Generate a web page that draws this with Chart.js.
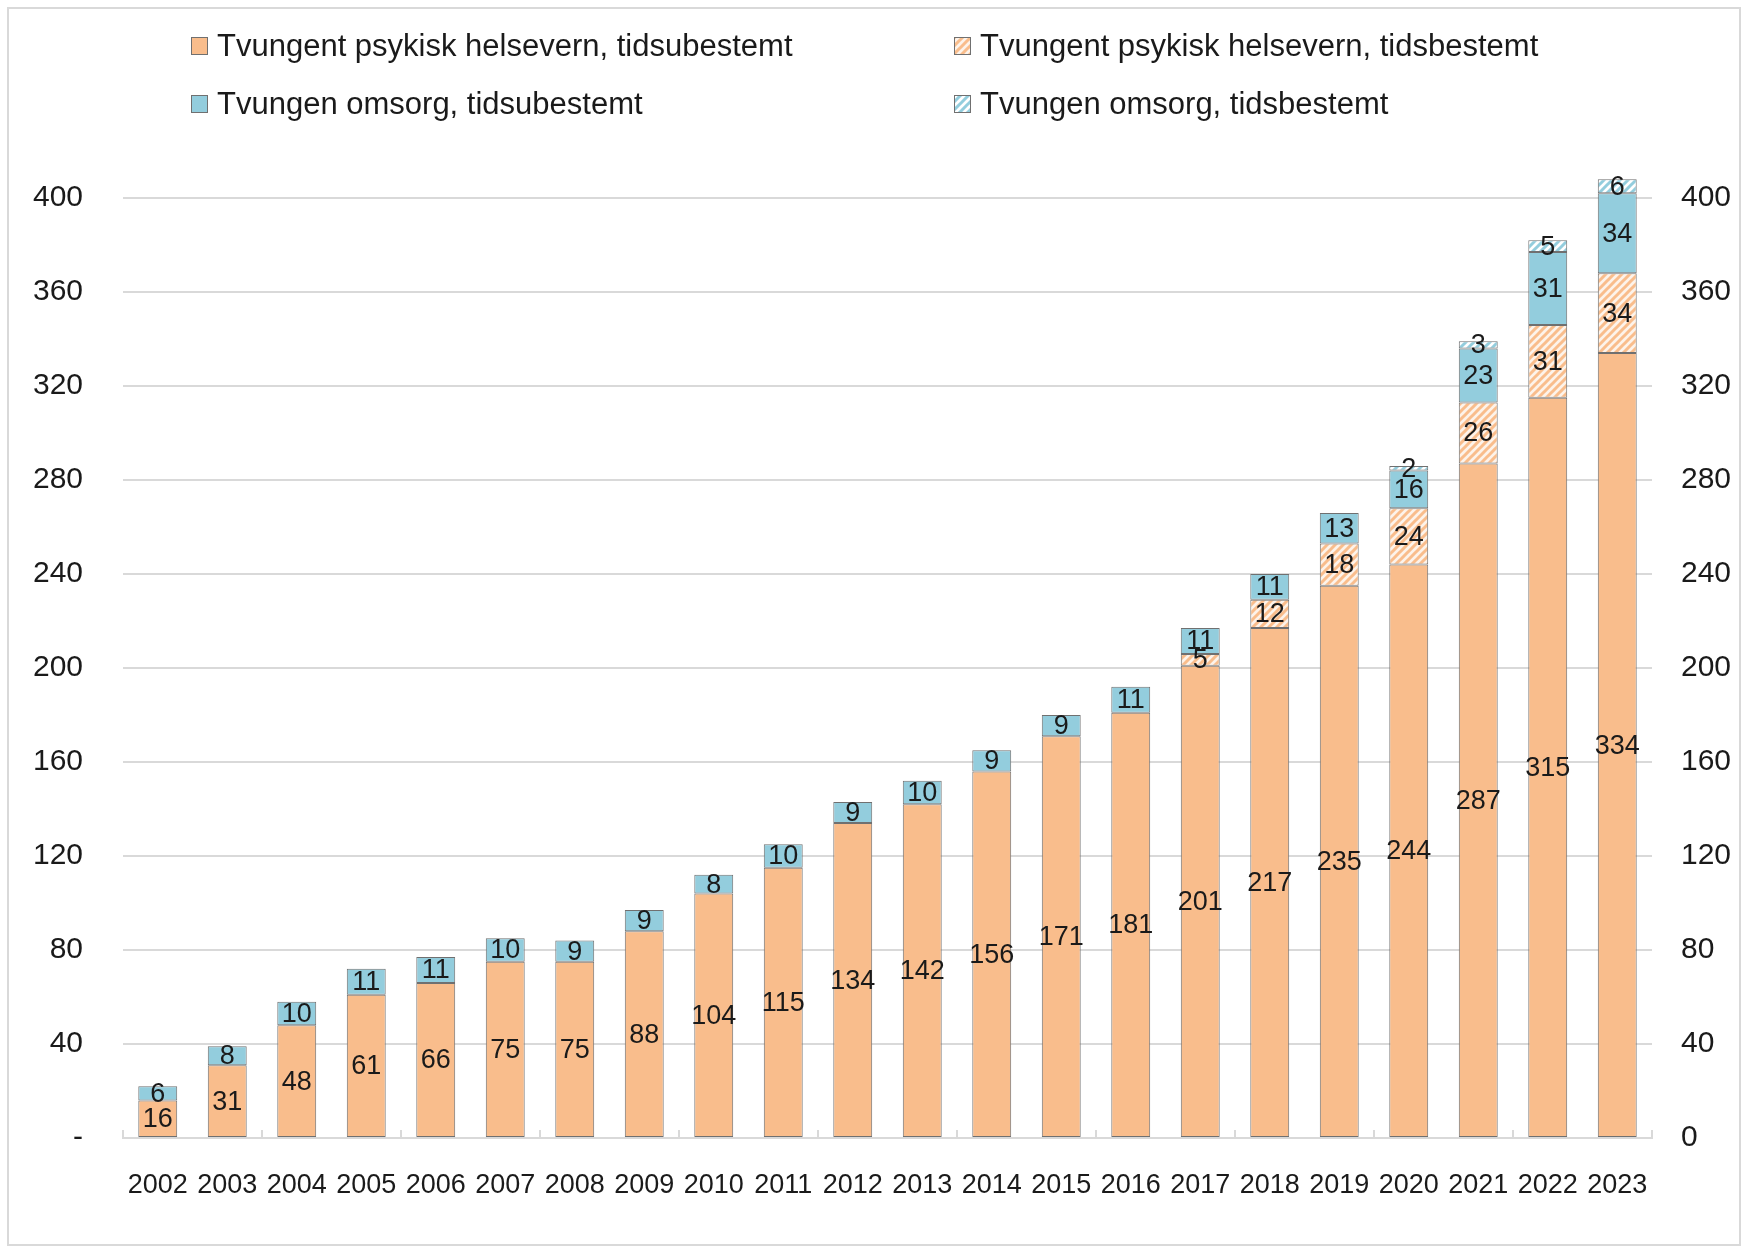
<!DOCTYPE html>
<html>
<head>
<meta charset="utf-8">
<script src="https://cdn.jsdelivr.net/npm/chart.js@4/dist/chart.umd.min.js"></script>
<style>
  html, body { margin: 0; padding: 0; background: #fff; }
  #wrap { width: 1743px; height: 1247px; }
</style>
</head>
<body>
<div id="wrap"><canvas id="chart" width="1743" height="1247"></canvas></div>
<script>
var years = ['2002','2003','2004','2005','2006','2007','2008','2009','2010','2011','2012','2013','2014','2015','2016','2017','2018','2019','2020','2021','2022','2023'];
var psykUbestemt = [16,31,48,61,66,75,75,88,104,115,134,142,156,171,181,201,217,235,244,287,315,334];
var psykBestemt  = [0,0,0,0,0,0,0,0,0,0,0,0,0,0,0,5,12,18,24,26,31,34];
var omsorgUbestemt = [6,8,10,11,11,10,9,9,8,10,9,10,9,9,11,11,11,13,16,23,31,34];
var omsorgBestemt  = [0,0,0,0,0,0,0,0,0,0,0,0,0,0,0,0,0,0,2,3,5,6];
var seriesNames = ['Tvungent psykisk helsevern, tidsubestemt','Tvungent psykisk helsevern, tidsbestemt','Tvungen omsorg, tidsubestemt','Tvungen omsorg, tidsbestemt'];
var yTicks = [0,40,80,120,160,200,240,280,320,360,400];

var FONT = '"Liberation Sans", sans-serif';
var ORANGE = '#f9bd8c';
var BLUE = '#93cddd';
var EDGE = '#707070';
var INK = '#1a1a1a';

function hatch(bg, fg){
  var c = document.createElement('canvas');
  c.width = 8; c.height = 8;
  var g = c.getContext('2d');
  g.fillStyle = bg;
  g.fillRect(0,0,8,8);
  g.strokeStyle = fg;
  g.lineWidth = 3;
  g.beginPath();
  g.moveTo(-2,10); g.lineTo(10,-2);
  g.moveTo(-2,2); g.lineTo(2,-2);
  g.moveTo(6,10); g.lineTo(10,6);
  g.stroke();
  return g.createPattern(c,'repeat');
}
var ctx0 = document.getElementById('chart').getContext('2d');
var orangeHatch = hatch('#fdf3ea', ORANGE);
var blueHatch = hatch('#ffffff', BLUE);
var fills = [ORANGE, orangeHatch, BLUE, blueHatch];

// frame round the whole chart + the little tick marks on the x axis
var framePlugin = {
  id: 'frame',
  beforeDraw: function(chart){
    var c = chart.ctx;
    c.save();
    c.fillStyle = '#fff';
    c.fillRect(0,0,chart.width,chart.height);
    c.strokeStyle = '#d9d9d9';
    c.lineWidth = 2;
    c.strokeRect(8,8,1732,1237);
    c.restore();
  },
  afterDatasetsDraw: function(chart){
    var c = chart.ctx, xs = chart.scales.x, a = chart.chartArea;
    var step = (a.right - a.left) / years.length;
    c.save();
    c.strokeStyle = '#d9d9d9';
    c.lineWidth = 2;
    c.beginPath();
    for (var i = 0; i <= years.length; i += 2){
      var px = Math.round(a.left + i*step);
      c.moveTo(px, a.bottom); c.lineTo(px, a.bottom - 8);
    }
    c.stroke();
    c.restore();
  }
};

// values written in the middle of each segment
var labelPlugin = {
  id: 'segLabels',
  afterDatasetsDraw: function(chart){
    var c = chart.ctx;
    c.save();
    c.font = '27px ' + FONT;
    c.fillStyle = INK;
    c.textAlign = 'center';
    c.textBaseline = 'middle';
    chart.data.datasets.forEach(function(ds, i){
      var meta = chart.getDatasetMeta(i);
      meta.data.forEach(function(bar, j){
        var v = ds.data[j];
        if (!v) return;
        c.fillText(String(v), bar.x, (bar.y + bar.base)/2 + 1);
      });
    });
    c.restore();
  }
};

// legend in two columns like the original
var legendPlugin = {
  id: 'gridLegend',
  afterDraw: function(chart){
    var c = chart.ctx;
    var cols = [191, 954];
    var rows = [46, 104];
    c.save();
    c.font = '31px ' + FONT;
    c.textBaseline = 'middle';
    c.textAlign = 'left';
    for (var i = 0; i < 4; i++){
      var x = cols[i % 2], y = rows[Math.floor(i/2)];
      c.fillStyle = fills[i];
      c.fillRect(x, y-9, 17, 18);
      c.strokeStyle = EDGE;
      c.lineWidth = 1;
      c.strokeRect(x+0.5, y-8.5, 16, 17);
      c.fillStyle = INK;
      c.fillText(seriesNames[i], x + 26, y + 1);
    }
    c.restore();
  }
};

function keepTicks(scale){
  scale.ticks = yTicks.map(function(v){ return {value: v}; });
}

var datasets = [psykUbestemt, psykBestemt, omsorgUbestemt, omsorgBestemt].map(function(d, i){
  return {
    label: seriesNames[i],
    data: d,
    backgroundColor: fills[i],
    borderColor: EDGE,
    borderWidth: 1,
    borderSkipped: false,
    barPercentage: 0.56,
    categoryPercentage: 1
  };
});

new Chart(ctx0, {
  type: 'bar',
  data: { labels: years, datasets: datasets },
  options: {
    responsive: false,
    animation: false,
    layout: { padding: { top: 104, left: 0, right: 0, bottom: 0 } },
    plugins: { legend: { display: false }, tooltip: { enabled: false } },
    scales: {
      x: {
        stacked: true,
        grid: { display: false, drawTicks: false },
        border: { display: true, color: '#d9d9d9', width: 2 },
        ticks: { color: INK, font: { family: FONT, size: 27 }, padding: 31, maxRotation: 0, autoSkip: false },
        afterFit: function(s){ s.height = 109; }
      },
      y: {
        stacked: true,
        min: 0, max: 440,
        afterBuildTicks: keepTicks,
        grid: { color: '#d9d9d9', lineWidth: 2, drawTicks: false },
        border: { display: false },
        ticks: {
          color: INK, font: { family: FONT, size: 30 }, padding: 40,
          callback: function(v){ return v === 0 ? '-' : v; }
        },
        afterFit: function(s){ s.width = 123; }
      },
      y2: {
        position: 'right',
        min: 0, max: 440,
        afterBuildTicks: keepTicks,
        grid: { display: false, drawTicks: false },
        border: { display: false },
        ticks: { color: INK, font: { family: FONT, size: 30 }, padding: 29 },
        afterFit: function(s){ s.width = 91; }
      }
    }
  },
  plugins: [framePlugin, labelPlugin, legendPlugin]
});
</script>
</body>
</html>
